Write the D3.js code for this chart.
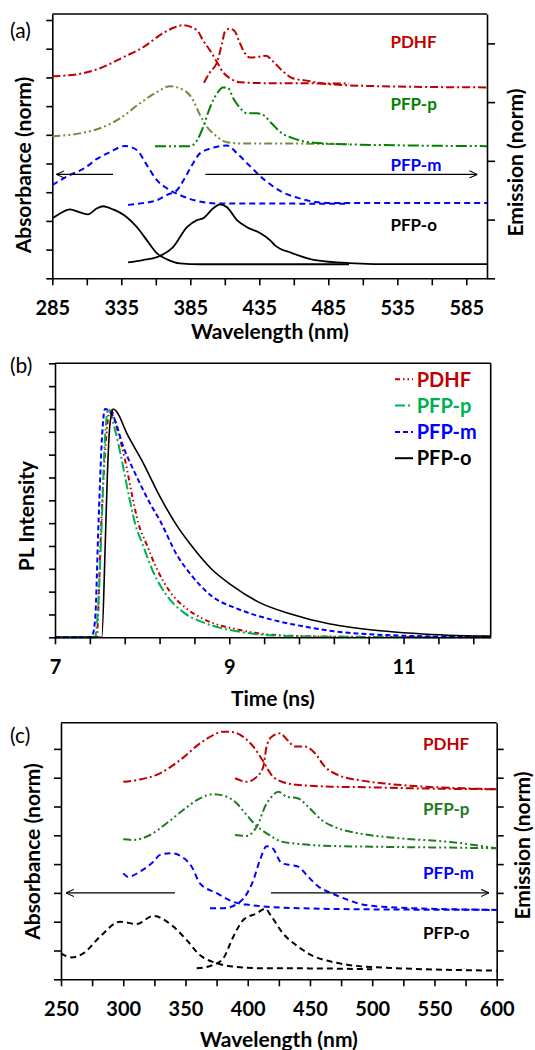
<!DOCTYPE html>
<html>
<head>
<meta charset="utf-8">
<script src="https://cdn.jsdelivr.net/npm/d3@7"></script>
<style>
  body { margin: 0; background: #fff; }
  svg { display: block; font-family: Lato, "Open Sans", sans-serif; }
</style>
</head>
<body>
<svg id="chart" width="535" height="1050"></svg>
<script>
// ---------- data ----------
const seriesNames = ['PDHF', 'PFP-p', 'PFP-m', 'PFP-o'];

// (a) wavelength axis
const waveTicksA = d3.range(285, 586, 25);
const waveLabelsA = [285, 335, 385, 435, 485, 535, 585];

// (a) absorbance, left axis units  [nm, value]
const absA_PDHF = [[285,7.04],[303,7.11],[319.6,7.32],[336.3,7.70],[350.7,8.05],[365.2,8.54],[373.9,8.75],[379.7,8.82],[389.9,8.64],[394.2,8.29],[399.3,7.94],[404.4,7.53],[408.7,7.18],[413.8,6.97],[421,6.83],[440,6.80],[500,6.79]];
const absA_PFPp = [[285,4.95],[305,5.05],[319.6,5.23],[334,5.57],[348.5,6.10],[359.4,6.45],[370.3,6.69],[377.5,6.62],[386.3,6.27],[392,5.69],[397,5.28],[402.9,4.99],[411.6,4.74],[421,4.70],[440,4.70],[500,4.67]];
const absA_PFPm = [[285,3.25],[297.8,3.60],[308.7,3.85],[317,4.15],[326.8,4.40],[337.7,4.61],[346.2,4.47],[353.5,3.95],[360.6,3.43],[367.9,3.14],[377.5,2.90],[389.6,2.70],[404.1,2.61],[500,2.60]];
const absA_PFPo = [[285,2.09],[290.6,2.26],[297.8,2.40],[305,2.30],[310.9,2.23],[317.4,2.44],[321.7,2.51],[329,2.40],[339,2.13],[346.4,1.78],[353.6,1.32],[360.9,0.87],[368.1,0.66],[377.5,0.52],[392,0.49],[500,0.49]];

// (a) emission, right axis units
const emA_PDHF = [[394.9,3.33],[399.3,3.51],[404.4,3.68],[408,4.00],[410.1,4.20],[413.8,4.25],[417.4,4.20],[421,4.00],[424.6,3.83],[428.2,3.76],[434,3.77],[440,3.79],[444.2,3.71],[451.4,3.54],[458.7,3.41],[468.1,3.37],[487.7,3.30],[523.9,3.27],[600,3.25]];
const emA_PFPp = [[359.4,2.25],[384.8,2.25],[389.9,2.35],[394.2,2.57],[399.3,2.91],[404.4,3.15],[408.7,3.25],[412.3,3.24],[416,3.07],[421,2.90],[426.1,2.81],[433.3,2.81],[438,2.78],[444.2,2.63],[451.4,2.47],[458.7,2.39],[470.2,2.32],[500,2.28],[600,2.25]];
const emA_PFPm = [[339.9,1.25],[350.7,1.28],[360.9,1.33],[368.1,1.42],[375.3,1.50],[381.1,1.71],[386.3,1.93],[392,2.13],[397.1,2.19],[404.4,2.24],[411.6,2.26],[418.8,2.13],[426.1,1.96],[439.1,1.67],[451.4,1.47],[463,1.37],[475.4,1.30],[487.7,1.28],[600,1.28]];
const emA_PFPo = [[339.9,0.27],[350.7,0.31],[360.9,0.36],[372.5,0.53],[382.6,0.87],[389.9,0.99],[394.2,1.02],[401.5,1.19],[406.5,1.26],[411.6,1.21],[418.8,0.99],[426.1,0.87],[435.5,0.77],[442.7,0.65],[446.4,0.56],[458.7,0.43],[475.4,0.31],[500,0.26],[535.5,0.24],[600,0.24]];

// (b) time axis
const timeTicks = d3.range(13).map(k => 7 + 0.4 * k);
const timeLabels = [7, 9, 11];
const intensityTicks = d3.range(13).map(k => k * 0.1);

// (b) PL decays  [ns, normalised intensity]
const decayPDHF = [[7,0],[7.479,0],[7.50,0.15],[7.518,0.37],[7.56,0.72],[7.60,0.93],[7.631,1.0],[7.727,0.894],[7.804,0.777],[7.88,0.631],[7.956,0.50],[8.048,0.41],[8.166,0.302],[8.322,0.198],[8.519,0.123],[8.715,0.078],[9.107,0.033],[9.5,0.011],[10,0.004],[11,0.001],[12,0]];
const decayPFPp = [[7,0],[7.459,0],[7.49,0.1],[7.536,0.5],[7.575,0.88],[7.612,1.0],[7.689,0.908],[7.766,0.777],[7.842,0.631],[7.918,0.50],[8.008,0.405],[8.126,0.287],[8.283,0.183],[8.479,0.108],[8.715,0.063],[9.107,0.025],[9.5,0.008],[10,0.003],[11,0.001],[12,0]];
const decayPFPm = [[7,0],[7.42,0],[7.46,0.076],[7.50,0.51],[7.54,0.88],[7.574,1.0],[7.67,0.966],[7.784,0.835],[7.938,0.703],[8.09,0.587],[8.206,0.51],[8.40,0.36],[8.558,0.275],[8.79,0.183],[9.107,0.123],[9.5,0.076],[9.892,0.045],[10.2,0.026],[10.5,0.016],[11,0.007],[11.5,0.003],[12,0.002]];
const decayPFPo = [[7,0],[7.537,0],[7.576,0.40],[7.60,0.70],[7.63,0.93],[7.669,1.0],[7.708,0.988],[7.823,0.894],[8.014,0.762],[8.206,0.615],[8.397,0.49],[8.558,0.405],[8.793,0.30],[9.029,0.227],[9.342,0.153],[9.696,0.103],[10.157,0.058],[10.35,0.046],[10.73,0.029],[11.11,0.0175],[11.5,0.009],[12,0.005]];

// (c) wavelength axis
const waveTicksC = d3.range(250, 601, 25);
const waveLabelsC = [250, 300, 350, 400, 450, 500, 550, 600];

// (c) absorbance and emission (both axes share units)
const absC_PDHF = [[300,6.86],[313.5,6.94],[329.5,7.15],[345.6,7.61],[361.6,8.19],[372.3,8.48],[380.4,8.60],[388.4,8.58],[396.4,8.42],[404.5,8.08],[412.5,7.56],[419.2,7.09],[427.3,6.86],[440.6,6.75],[467.4,6.69],[494.2,6.67],[534.3,6.63],[600,6.60]];
const absC_PFPp = [[300,4.86],[308.1,4.84],[321.5,5.01],[334.9,5.42],[348.2,5.88],[361.6,6.28],[372.3,6.43],[383.1,6.34],[391.1,6.11],[399.2,5.70],[407.2,5.32],[415.2,5.07],[427.3,4.78],[440.6,4.70],[467.4,4.63],[507.6,4.60],[547.8,4.58],[600,4.55]];
const absC_PFPm = [[300,3.68],[304,3.56],[313.5,3.74],[324.1,4.08],[329.5,4.32],[338.9,4.38],[346.9,4.26],[355,3.91],[361.6,3.33],[375.1,2.99],[388.4,2.69],[401.8,2.58],[415.2,2.52],[440.6,2.47],[494.2,2.43],[600,2.41]];
const absC_PFPo = [[250,0.90],[258.6,0.76],[267.9,0.90],[281.3,1.48],[297.4,2.00],[310.8,1.92],[324.1,2.20],[340.2,1.83],[351,1.36],[361.6,0.84],[375.1,0.56],[388.4,0.44],[415.2,0.38],[440.6,0.38],[500,0.35]];

const emC_PDHF = [[389.8,6.98],[399.2,6.86],[407.2,7.03],[412.5,7.38],[415,8.05],[419.2,8.42],[425.9,8.54],[432,8.30],[438,8.08],[446,8.08],[454,7.85],[462,7.38],[472.7,7.09],[488.8,6.92],[507.6,6.81],[534.3,6.71],[574.5,6.63],[600,6.60]];
const emC_PFPp = [[389.8,5.01],[399.2,4.98],[407.2,5.30],[415.2,6.11],[419.2,6.34],[424.5,6.51],[431.3,6.34],[440.6,6.28],[448.6,5.99],[459.4,5.53],[472.7,5.24],[488.8,5.07],[520.9,4.90],[562.4,4.77],[600,4.55]];
const emC_PFPm = [[369.7,2.47],[380.4,2.47],[393.8,2.69],[404.5,3.44],[409.8,4.14],[415.2,4.62],[420,4.55],[427.3,4.03],[434,3.97],[440.6,3.91],[448.6,3.56],[456.7,3.22],[467.4,2.99],[480.8,2.75],[494.2,2.58],[520.9,2.49],[600,2.41]];
const emC_PFPo = [[359,0.38],[372.3,0.50],[380.4,0.73],[388.4,1.48],[396.4,2.06],[407.2,2.29],[413.9,2.45],[419.2,2.17],[427.3,1.65],[440.6,1.13],[454,0.78],[467.4,0.61],[480.8,0.50],[494.2,0.44],[600,0.30]];

// ---------- drawing ----------
const svg = d3.select('#chart');
const font = 'Lato, "Open Sans", sans-serif';

const defs = svg.append('defs');
defs.append('marker')
  .attr('id', 'arrowHead')
  .attr('viewBox', '0 -5 10 10')
  .attr('refX', 10).attr('refY', 0)
  .attr('markerUnits', 'userSpaceOnUse')
  .attr('markerWidth', 8).attr('markerHeight', 8)
  .attr('orient', 'auto')
  .append('path')
  .attr('d', 'M0,-4.5L10,0L0,4.5')
  .attr('fill', 'none')
  .attr('stroke', '#000')
  .attr('stroke-width', 1.3);

function styleAxis(sel) {
  sel.select('.domain').attr('stroke', '#000').attr('stroke-width', 1.6);
  sel.selectAll('.tick line').attr('stroke', '#000').attr('stroke-width', 1.6);
  sel.selectAll('.tick text')
    .attr('fill', '#000')
    .attr('font-family', font)
    .attr('font-size', 20)
    .attr('font-weight', 'bold');
}

function drawCurve(data, x, y, color, dash, width) {
  svg.append('path')
    .datum(data)
    .attr('d', d3.line().x(d => x(d[0])).y(d => y(d[1])).curve(d3.curveMonotoneX))
    .attr('fill', 'none')
    .attr('stroke', color)
    .attr('stroke-width', width || 2)
    .attr('stroke-dasharray', dash)
    .attr('stroke-linejoin', 'round');
}

function addText(txt, x, y, opts) {
  const t = svg.append('text')
    .text(txt)
    .attr('font-family', font)
    .attr('font-size', opts.size)
    .attr('font-weight', opts.weight || 'bold')
    .attr('fill', opts.color || '#000')
    .attr('text-anchor', opts.anchor || 'start');
  if (opts.rotate) {
    t.attr('transform', `translate(${x},${y}) rotate(-90)`);
  } else {
    t.attr('x', x).attr('y', y);
  }
  if (opts.dy) t.attr('dy', opts.dy);
  return t;
}

function drawArrow(x1, x2, yv, xs, ys) {
  svg.append('line')
    .attr('x1', xs(x1)).attr('x2', xs(x2))
    .attr('y1', ys(yv)).attr('y2', ys(yv))
    .attr('stroke', '#000')
    .attr('stroke-width', 1.2)
    .attr('marker-end', 'url(#arrowHead)');
}

function frameLine(x1, y1, x2, y2) {
  svg.append('line')
    .attr('x1', x1).attr('y1', y1).attr('x2', x2).attr('y2', y2)
    .attr('stroke', '#000').attr('stroke-width', 1.6);
}

const dashDot = '8,3,2,3';
const dashDotDot = '8,3,2,3,2,3';
const dashed = '6,4';

// ===== panel (a) =====
const ax = d3.scaleLinear().domain([285, 600]).range([52.3, 487]);
const ayL = d3.scaleLinear().domain([0, 9.21]).range([278.3, 14]);
const ayR = d3.scaleLinear().domain([0, 4.5]).range([278.3, 14]);

frameLine(52.3, 14, 487, 14);
svg.append('g').attr('transform', 'translate(0,278.3)')
  .call(d3.axisBottom(ax).tickValues(waveTicksA).tickSize(7).tickSizeOuter(0).tickPadding(16)
    .tickFormat(d => waveLabelsA.includes(d) ? d : ''))
  .call(styleAxis);
svg.append('g').attr('transform', 'translate(52.3,0)')
  .call(d3.axisLeft(ayL).tickValues(d3.range(0, 10)).tickSize(6).tickSizeOuter(0).tickFormat(''))
  .call(styleAxis);
svg.append('g').attr('transform', 'translate(487,0)')
  .call(d3.axisRight(ayR).tickValues(d3.range(0, 5)).tickSize(8).tickSizeOuter(0).tickFormat(''))
  .call(styleAxis);

drawCurve(absA_PDHF, ax, ayL, '#C00000', dashDot);
drawCurve(emA_PDHF, ax, ayR, '#C00000', dashDot);
drawCurve(absA_PFPp, ax, ayL, '#6B8E3A', dashDotDot);
drawCurve(emA_PFPp, ax, ayR, '#008000', '11,3,2,3,2,3');
drawCurve(absA_PFPm, ax, ayL, '#0000FF', dashed);
drawCurve(emA_PFPm, ax, ayR, '#0000FF', dashed);
drawCurve(absA_PFPo, ax, ayL, '#000000', null, 1.8);
drawCurve(emA_PFPo, ax, ayR, '#000000', null, 1.8);

drawArrow(329, 288, 3.62, ax, ayL);
drawArrow(396, 593, 3.62, ax, ayL);

const labelColorsA = ['#C00000', '#008000', '#0000FF', '#000000'];
const labelYA = [8.25, 6.07, 3.95, 1.86];
seriesNames.forEach((n, i) => {
  addText(n, ax(530), ayL(labelYA[i]), { size: 17, color: labelColorsA[i], dy: '0.36em' });
});

addText('(a)', 10, 38, { size: 21, weight: 'normal' });
addText('Wavelength (nm)', 270, 339, { size: 21, anchor: 'middle' });
addText('Absorbance (norm)', 31, 165, { size: 21, anchor: 'middle', rotate: true });
addText('Emission (norm)', 523, 162.5, { size: 21, anchor: 'middle', rotate: true });

// ===== panel (b) =====
const bx = d3.scaleLinear().domain([7, 12]).range([55, 490.7]);
const by = d3.scaleLinear().domain([0, 1.2]).range([637.3, 363.3]);

frameLine(55, 363.3, 490.7, 363.3);
frameLine(490.7, 363.3, 490.7, 637.3);

const decays = [decayPDHF, decayPFPp, decayPFPm, decayPFPo];
const colorsB = ['#C00000', '#00B050', '#0000FF', '#000000'];
const dashesB = ['5,3,1.5,3,1.5,3', '10,3,2,3', '5,3', null];
const widthsB = [2, 2, 2, 1.6];
decays.forEach((d, i) => drawCurve(d, bx, by, colorsB[i], dashesB[i], widthsB[i]));

svg.append('g').attr('transform', 'translate(0,637.3)')
  .call(d3.axisBottom(bx).tickValues(timeTicks).tickSize(7).tickSizeOuter(0).tickPadding(16)
    .tickFormat(d => timeLabels.some(l => Math.abs(l - d) < 1e-6) ? d3.format('d')(d) : ''))
  .call(styleAxis);
svg.append('g').attr('transform', 'translate(55,0)')
  .call(d3.axisLeft(by).tickValues(intensityTicks).tickSize(6).tickSizeOuter(0).tickFormat(''))
  .call(styleAxis);

// legend
const legend = svg.append('g').attr('transform', 'translate(395,379.3)');
seriesNames.forEach((n, i) => {
  const row = legend.append('g').attr('transform', `translate(0,${i * 26.3})`);
  row.append('line')
    .attr('x1', 0).attr('x2', 18).attr('y1', 0).attr('y2', 0)
    .attr('stroke', colorsB[i]).attr('stroke-width', 2)
    .attr('stroke-dasharray', dashesB[i]);
  row.append('text')
    .text(n)
    .attr('x', 21.7).attr('dy', '0.36em')
    .attr('font-family', font).attr('font-size', 20).attr('font-weight', 'bold')
    .attr('fill', colorsB[i]);
});

addText('(b)', 10, 373, { size: 21, weight: 'normal' });
addText('Time (ns)', 272.8, 706, { size: 21, anchor: 'middle' });
addText('PL Intensity', 34, 516, { size: 21, anchor: 'middle', rotate: true });

// ===== panel (c) =====
const cx = d3.scaleLinear().domain([250, 600]).range([61, 496.7]);
const cyL = d3.scaleLinear().domain([0, 8.91]).range([979.3, 722.7]);
const cyR = d3.scaleLinear().domain([0, 8.91]).range([979.3, 722.7]);

frameLine(61, 722.7, 496.7, 722.7);
svg.append('g').attr('transform', 'translate(0,979.3)')
  .call(d3.axisBottom(cx).tickValues(waveTicksC).tickSize(7).tickSizeOuter(0).tickPadding(16)
    .tickFormat(d => waveLabelsC.includes(d) ? d : ''))
  .call(styleAxis);
svg.append('g').attr('transform', 'translate(61,0)')
  .call(d3.axisLeft(cyL).tickValues(d3.range(0, 9)).tickSize(7).tickSizeOuter(0).tickFormat(''))
  .call(styleAxis);
svg.append('g').attr('transform', 'translate(496.7,0)')
  .call(d3.axisRight(cyR).tickValues(d3.range(0, 9)).tickSize(7).tickSizeOuter(0).tickFormat(''))
  .call(styleAxis);

drawCurve(absC_PDHF, cx, cyL, '#C00000', dashDot);
drawCurve(emC_PDHF, cx, cyR, '#C00000', dashDot);
drawCurve(absC_PFPp, cx, cyL, '#1E7B1E', dashDotDot);
drawCurve(emC_PFPp, cx, cyR, '#1E7B1E', dashDotDot);
drawCurve(absC_PFPm, cx, cyL, '#0000FF', dashed);
drawCurve(emC_PFPm, cx, cyR, '#0000FF', dashed);
drawCurve(absC_PFPo, cx, cyL, '#000000', dashed);
drawCurve(emC_PFPo, cx, cyR, '#000000', dashed);

drawArrow(341.6, 254, 3.0, cx, cyL);
drawArrow(418.7, 593.8, 3.0, cx, cyL);

const labelColorsC = ['#C00000', '#1E7B1E', '#0000FF', '#000000'];
const labelYC = [8.18, 5.92, 3.70, 1.61];
seriesNames.forEach((n, i) => {
  addText(n, cx(540.8), cyL(labelYC[i]), { size: 17, color: labelColorsC[i], dy: '0.36em' });
});

addText('(c)', 10, 743, { size: 21, weight: 'normal' });
addText('Wavelength (nm)', 279, 1047, { size: 21, anchor: 'middle' });
addText('Absorbance (norm)', 40, 851.5, { size: 21, anchor: 'middle', rotate: true });
addText('Emission (norm)', 530, 845.5, { size: 21, anchor: 'middle', rotate: true });
</script>
</body>
</html>
